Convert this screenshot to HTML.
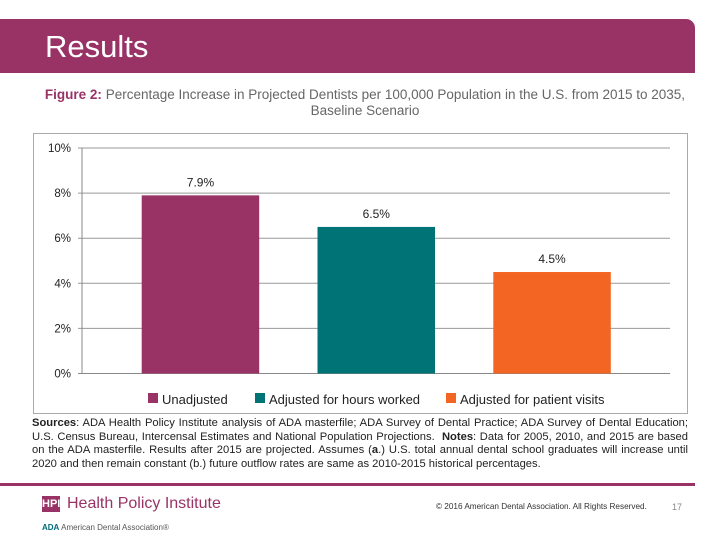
<!DOCTYPE html>
<html><head><meta charset="utf-8">
<style>
body{margin:0;width:720px;height:540px;background:#fff;position:relative;overflow:hidden;font-family:"Liberation Sans",Arial,sans-serif;}
.abs{position:absolute;}
</style></head><body>
<div class="abs" style="left:0;top:19px;width:695px;height:54px;background:#993366;border-top-right-radius:9px;"></div>
<div class="abs" style="left:45px;top:29px;font-size:31px;color:#fff;">Results</div>
<div class="abs" style="left:20px;top:87px;width:690px;text-align:center;font-size:13.5px;line-height:15.5px;color:#666;"><b style="color:#993366">Figure 2:</b> Percentage Increase in Projected Dentists per 100,000 Population in the U.S. from 2015 to 2035,<br>Baseline Scenario</div>
<svg class="abs" style="left:0;top:0" width="720" height="540">
<rect x="33.5" y="133.5" width="654" height="280" fill="#fff" stroke="#aaa"/>
<g id="g"></g>
</svg>
<div class="abs" style="left:32px;top:417px;width:656px;font-size:11.2px;line-height:13.5px;color:#222;text-align:justify;"><b>Sources</b>: ADA Health Policy Institute analysis of ADA masterfile; ADA Survey of Dental Practice; ADA Survey of Dental Education; U.S. Census Bureau, Intercensal Estimates and National Population Projections. &nbsp;<b>Notes</b>: Data for 2005, 2010, and 2015 are based on the ADA masterfile. Results after 2015 are projected. Assumes (<b>a</b>.) U.S. total annual dental school graduates will increase until 2020 and then remain constant (b.) future outflow rates are same as 2010-2015 historical percentages.</div>
<div class="abs" style="left:0;top:483px;width:695px;height:3px;background:#993366;"></div>
<div class="abs" style="left:42px;top:496px;width:18px;height:16px;background:#993366;color:#fff;font-size:11px;font-weight:bold;text-align:center;line-height:16px;">HPI</div>
<div class="abs" style="left:67px;top:495px;font-size:16px;color:#993366;">Health Policy Institute</div>
<div class="abs" style="left:42px;top:523px;font-size:8px;color:#555;"><b style="color:#006b7a">ADA</b> American Dental Association®</div>
<div class="abs" style="left:436px;top:502px;font-size:8.2px;color:#333;">© 2016 American Dental Association. All Rights Reserved.</div>
<div class="abs" style="left:672px;top:502px;font-size:9px;color:#888;">17</div>
<script>
const categories=["Unadjusted","Adjusted for hours worked","Adjusted for patient visits"];
const values=[7.9,6.5,4.5];
const valueLabels=["7.9%","6.5%","4.5%"];
const colors=["#993366","#007377","#f26522"];
const ticks=[0,2,4,6,8,10];
const ns="http://www.w3.org/2000/svg",g=document.getElementById('g');
const y0=373.5,y10=148,x0=82,x1=670;
function y(v){return y0-(y0-y10)*v/10;}
function bx(i){return 141.7+i*175.8;}
const bw=117.5;
function mk(t,a){const e=document.createElementNS(ns,t);for(const k in a)e.setAttribute(k,a[k]);g.appendChild(e);return e;}
ticks.forEach(t=>{
const l=mk('line',{x1:x0-4,x2:x1,y1:y(t),y2:y(t),stroke:t===0?'#888':'#999','stroke-width':1});


const tx=mk('text',{x:71,y:y(t)+4,'text-anchor':'end','font-size':11.5,fill:'#222','font-family':'Liberation Sans'});
tx.textContent=t+'%';


});
mk('line',{x1:x0,x2:x0,y1:y10,y2:y0,stroke:'#888'});
values.forEach((v,i)=>{
const r=mk('rect',{x:bx(i),y:y(v),width:bw,height:y0-y(v),fill:colors[i]});


const t=mk('text',{x:bx(i)+bw/2,y:y(v)-9,'text-anchor':'middle','font-size':12,fill:'#222','font-family':'Liberation Sans'});
t.textContent=valueLabels[i];


});
const lx=[148,255,446];
categories.forEach((c,i)=>{
const r=mk('rect',{x:lx[i],y:393,width:10,height:10,fill:colors[i]});


const t=mk('text',{x:lx[i]+14,y:404,'font-size':13,fill:'#222','font-family':'Liberation Sans'});
t.textContent=c;


});
</script>
</body></html>
